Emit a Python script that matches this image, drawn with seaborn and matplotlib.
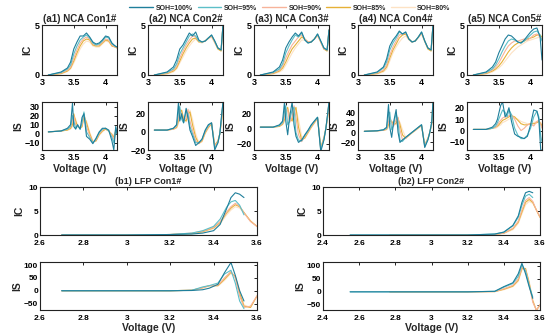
import numpy as np
import pandas as pd
import matplotlib
matplotlib.use("Agg")
import matplotlib.pyplot as plt
import seaborn as sns

sns.set_theme(style="white")
plt.rcParams['font.family'] = ['Liberation Sans', 'DejaVu Sans']
plt.rcParams['font.weight'] = 'bold'

soh_labels = ["SOH=100%", "SOH=95%", "SOH=90%", "SOH=85%", "SOH=80%"]
soh_colors = ["#1f7f9b", "#5cbfc8", "#f7b39a", "#e6b136", "#fde2c4"]

# ---------------- NCA incremental capacity ----------------
v_nca_ic = [3.1, 3.3, 3.4, 3.45, 3.5, 3.55, 3.6, 3.65, 3.7, 3.75, 3.8, 3.85, 3.9, 3.95, 4.0, 4.05, 4.1, 4.15, 4.18]

ic_a1_100 = [0.0, 0.3, 0.7, 1.3, 2.6, 3.3, 3.9, 3.9, 4.2, 3.8, 3.3, 3.1, 3.2, 3.5, 3.9, 3.8, 3.2, 2.9, 2.8]
ic_a1_95 = [0.0, 0.25, 0.6, 1.0, 2.1, 2.9, 3.5, 3.8, 4.0, 3.7, 3.2, 3.0, 3.1, 3.4, 3.8, 3.7, 3.1, 2.9, 2.8]
ic_a1_90 = [0.0, 0.2, 0.5, 0.8, 1.7, 2.5, 3.2, 3.6, 3.8, 3.6, 3.1, 3.0, 3.0, 3.3, 3.6, 3.5, 3.0, 2.8, 2.8]
ic_a1_85 = [0.0, 0.15, 0.4, 0.7, 1.4, 2.2, 2.9, 3.4, 3.6, 3.5, 3.0, 2.9, 2.9, 3.2, 3.5, 3.4, 2.9, 2.8, 2.7]
ic_a1_80 = [0.0, 0.1, 0.35, 0.6, 1.2, 1.9, 2.6, 3.1, 3.4, 3.3, 2.9, 2.8, 2.8, 3.1, 3.4, 3.3, 2.9, 2.8, 2.7]

ic_a2_100 = [0.0, 0.3, 0.8, 1.5, 2.6, 3.0, 3.6, 4.2, 3.9, 4.3, 3.5, 3.3, 3.4, 3.7, 4.0, 3.4, 2.7, 2.5, 5.0]
ic_a2_95 = [0.0, 0.25, 0.6, 1.1, 2.1, 2.7, 3.3, 3.9, 4.1, 3.9, 3.4, 3.3, 3.4, 3.7, 4.0, 3.4, 2.7, 2.5, 5.0]
ic_a2_90 = [0.0, 0.2, 0.5, 0.9, 1.7, 2.4, 3.0, 3.5, 3.9, 3.8, 3.4, 3.3, 3.4, 3.7, 3.9, 3.3, 2.7, 2.5, 5.0]
ic_a2_85 = [0.0, 0.15, 0.4, 0.7, 1.4, 2.1, 2.7, 3.2, 3.6, 3.7, 3.3, 3.3, 3.4, 3.7, 3.9, 3.3, 2.6, 2.4, 5.0]
ic_a2_80 = [0.0, 0.1, 0.3, 0.6, 1.2, 1.8, 2.4, 2.9, 3.3, 3.6, 3.3, 3.2, 3.4, 3.6, 3.8, 3.2, 2.6, 2.4, 5.0]

ic_a3_100 = [0.0, 0.3, 0.8, 1.5, 2.7, 3.3, 3.8, 4.2, 3.9, 4.3, 3.5, 3.2, 3.3, 3.6, 4.1, 3.4, 2.7, 2.5, 4.5]
ic_a3_95 = [0.0, 0.25, 0.6, 1.1, 2.2, 2.9, 3.5, 4.0, 3.8, 4.2, 3.5, 3.2, 3.3, 3.6, 4.1, 3.4, 2.7, 2.5, 4.5]
ic_a3_90 = [0.0, 0.2, 0.5, 0.9, 1.7, 2.4, 3.0, 3.4, 3.8, 4.0, 3.6, 3.3, 3.3, 3.6, 4.0, 3.3, 2.6, 2.5, 4.5]
ic_a3_85 = [0.0, 0.15, 0.4, 0.7, 1.3, 2.0, 2.6, 3.0, 3.4, 3.8, 3.6, 3.3, 3.3, 3.6, 4.0, 3.3, 2.6, 2.4, 4.5]
ic_a3_80 = [0.0, 0.1, 0.3, 0.5, 1.0, 1.6, 2.2, 2.7, 3.1, 3.5, 3.5, 3.3, 3.3, 3.6, 3.9, 3.3, 2.6, 2.4, 4.5]

ic_a4_100 = [0.0, 0.3, 0.8, 1.6, 2.9, 3.5, 3.9, 4.4, 4.1, 4.3, 3.6, 3.3, 3.4, 3.8, 4.3, 3.4, 2.7, 2.5, 5.0]
ic_a4_95 = [0.0, 0.25, 0.7, 1.3, 2.5, 3.2, 3.7, 4.3, 4.1, 4.3, 3.6, 3.3, 3.4, 3.8, 4.3, 3.4, 2.7, 2.5, 5.0]
ic_a4_90 = [0.0, 0.2, 0.5, 1.0, 2.0, 2.8, 3.4, 4.0, 4.1, 4.2, 3.6, 3.3, 3.4, 3.8, 4.2, 3.4, 2.7, 2.5, 5.0]
ic_a4_85 = [0.0, 0.15, 0.4, 0.8, 1.7, 2.5, 3.1, 3.7, 4.0, 4.1, 3.6, 3.3, 3.4, 3.8, 4.2, 3.4, 2.6, 2.4, 5.0]
ic_a4_80 = [0.0, 0.1, 0.3, 0.6, 1.4, 2.2, 2.8, 3.3, 3.7, 3.9, 3.5, 3.3, 3.4, 3.7, 4.1, 3.3, 2.6, 2.4, 5.0]

ic_a5_100 = [0.0, 0.3, 0.8, 1.3, 2.2, 2.9, 3.6, 4.0, 3.9, 3.6, 3.3, 3.2, 3.5, 3.9, 4.3, 4.6, 4.7, 3.8, 1.5]
ic_a5_95 = [0.0, 0.25, 0.6, 1.0, 1.6, 2.3, 2.9, 3.4, 3.6, 3.5, 3.3, 3.2, 3.4, 3.7, 4.0, 4.3, 4.4, 4.0, 3.4]
ic_a5_90 = [0.0, 0.2, 0.5, 0.8, 1.2, 1.8, 2.4, 2.9, 3.2, 3.4, 3.4, 3.5, 3.6, 3.5, 3.7, 4.0, 4.1, 3.8, 3.6]
ic_a5_85 = [0.0, 0.15, 0.4, 0.6, 0.9, 1.3, 1.8, 2.3, 2.7, 3.0, 3.2, 3.3, 3.4, 3.6, 3.7, 3.8, 4.0, 4.0, 3.8]
ic_a5_80 = [0.0, 0.1, 0.3, 0.5, 0.7, 1.0, 1.4, 1.8, 2.2, 2.5, 2.8, 3.0, 3.2, 3.4, 3.5, 3.6, 3.7, 3.8, 3.7]

# ---------------- NCA incremental slope ----------------
v_nca_is = [3.1, 3.3, 3.4, 3.45, 3.48, 3.5, 3.53, 3.56, 3.6, 3.63, 3.66, 3.7, 3.75, 3.8, 3.85, 3.9, 3.95, 4.0, 4.05, 4.1, 4.13, 4.16, 4.18]

is_a1_100 = [2, 3, 6, 10, 34, 8, 5, 10, 5, 18, 22, -3, -6, -11, -5, 2, 6, 6, 4, -8, -18, 8, 0]
is_a1_95 = [2, 3, 5, 8, 20, 14, 6, 9, 5, 12, 24, 2, -4, -10, -6, 1, 5, 6, 3, -4, -10, 6, 0]
is_a1_90 = [2, 3, 5, 7, 14, 20, 10, 8, 6, 10, 22, 8, -2, -10, -7, 0, 4, 6, 3, -2, -6, 4, 0]
is_a1_85 = [2, 3, 4, 6, 10, 22, 14, 8, 6, 8, 20, 12, 0, -9, -8, -1, 3, 5, 3, -1, -4, 3, 0]
is_a1_80 = [2, 3, 4, 5, 8, 18, 16, 9, 6, 7, 17, 14, 2, -8, -8, -2, 2, 5, 3, 0, -2, 2, 0]

is_a2_100 = [2, 2, 4, 8, 33, 12, 20, 10, 26, 15, 2, -5, -15, -12, -8, 2, 8, 10, -20, -12, -2, 20, 33]
is_a2_95 = [2, 2, 4, 7, 22, 28, 14, 10, 22, 20, 6, -2, -12, -12, -8, 1, 7, 10, -18, -12, -2, 18, 33]
is_a2_90 = [2, 2, 3, 6, 15, 25, 20, 12, 15, 25, 12, 2, -10, -13, -9, 0, 6, 10, -16, -11, -2, 16, 33]
is_a2_85 = [2, 2, 3, 5, 12, 20, 24, 14, 12, 20, 22, 8, -6, -13, -10, -1, 5, 9, -15, -10, -2, 14, 33]
is_a2_80 = [2, 2, 3, 4, 9, 15, 22, 16, 11, 16, 24, 14, -2, -12, -11, -2, 4, 9, -14, -10, -2, 12, 33]

is_a3_100 = [2, 2, 5, 10, 35, 10, -8, 15, 35, 5, -10, -18, -15, -8, -2, 5, 10, 15, -30, -15, 0, 20, 35]
is_a3_95 = [2, 2, 4, 8, 22, 30, 5, 10, 25, 28, -5, -15, -16, -9, -3, 4, 10, 15, -28, -14, 0, 20, 35]
is_a3_90 = [2, 2, 4, 7, 15, 25, 25, 8, 15, 30, 15, -8, -17, -10, -4, 3, 9, 14, -27, -13, 0, 18, 35]
is_a3_85 = [2, 2, 3, 6, 12, 20, 28, 15, 10, 22, 28, 2, -15, -12, -5, 2, 8, 14, -25, -12, 0, 16, 35]
is_a3_80 = [2, 2, 3, 5, 9, 15, 24, 20, 10, 16, 26, 12, -10, -13, -6, 1, 7, 13, -24, -12, 0, 15, 35]

is_a4_100 = [2, 3, 5, 10, 55, 10, -10, 20, 45, 0, -20, -15, -10, -5, 0, 5, 10, 15, -30, -15, 0, 20, 60]
is_a4_95 = [2, 3, 5, 8, 35, 40, 5, 15, 38, 20, -15, -18, -10, -5, 0, 5, 10, 15, -28, -14, 0, 20, 60]
is_a4_90 = [2, 3, 4, 7, 20, 30, 20, 12, 25, 30, 5, -15, -12, -6, 0, 4, 10, 14, -26, -13, 0, 18, 60]
is_a4_85 = [2, 3, 4, 6, 15, 22, 22, 15, 18, 28, 15, -5, -12, -6, -1, 4, 9, 13, -25, -12, 0, 16, 60]
is_a4_80 = [2, 3, 4, 5, 10, 16, 20, 18, 15, 22, 20, 5, -10, -7, -1, 3, 8, 13, -24, -12, 0, 15, 60]

is_a5_100 = [1, 1, 3, 6, 10, 15, 22, 25, 12, 15, 20, 8, -3, -5, -6, -7, -5, 5, 18, 17, 10, -17, -17]
is_a5_95 = [1, 1, 2, 4, 7, 10, 14, 18, 16, 12, 18, 14, 2, -4, -7, -7, -4, 2, 12, 17, 12, -5, -10]
is_a5_90 = [1, 1, 2, 3, 5, 7, 9, 11, 12, 12, 13, 14, 10, 4, 0, 2, 5, 6, 4, 8, 9, 5, 2]
is_a5_85 = [1, 1, 2, 3, 4, 5, 7, 9, 10, 11, 12, 13, 12, 9, 6, 5, 5, 6, 6, 7, 8, 6, 4]
is_a5_80 = [1, 1, 2, 2, 3, 4, 5, 7, 8, 9, 10, 11, 11, 10, 8, 7, 6, 6, 7, 8, 8, 7, 5]

# ---------------- LFP ----------------
nan = float("nan")
v_b1_ic = [2.7, 2.8, 3.0, 3.2, 3.3, 3.35, 3.4, 3.43, 3.46, 3.48, 3.5, 3.52, 3.54, 3.57, 3.6]
ic_b1_100 = [0, 0, 0, 0.1, 0.2, 0.4, 0.9, 2.2, 5.5, 7.8, 8.8, 8.5, 7.8, nan, nan]
ic_b1_95 = [0, 0, 0, 0.1, 0.4, 0.9, 1.8, 3.3, 5.8, 6.9, 7.2, 6.2, 4.2, nan, nan]
ic_b1_90 = [0, 0, 0, 0.1, 0.4, 0.8, 1.6, 2.8, 4.8, 5.9, 6.6, 6.0, 4.6, 2.8, 1.8]
ic_b1_85 = [0, 0, 0, 0.1, 0.3, 0.7, 1.5, 2.6, 4.6, 5.6, 6.3, 5.9, 4.7, 2.9, 1.8]
ic_b1_80 = [0, 0, 0, 0.1, 0.3, 0.6, 1.3, 2.3, 4.2, 5.2, 5.9, 5.6, 4.6, 3.0, 1.7]

v_b1_is = [2.7, 2.8, 3.0, 3.2, 3.3, 3.35, 3.38, 3.42, 3.45, 3.48, 3.5, 3.52, 3.54, 3.57, 3.6]
is_b1_100 = [0, 0, 0, 0, 1, 4, 10, 25, 70, 110, 60, 0, -40, nan, nan]
is_b1_95 = [0, 0, 0, 0, 2, 15, 20, 30, 65, 80, 30, -40, -70, nan, nan]
is_b1_90 = [0, 0, 0, 0, 2, 12, 20, 22, 50, 75, 50, -20, -65, -60, -20]
is_b1_85 = [0, 0, 0, 0, 2, 12, 20, 20, 45, 72, 55, -10, -60, -65, -20]
is_b1_80 = [0, 0, 0, 0, 2, 10, 18, 18, 40, 68, 55, 0, -55, -65, -22]

v_b2_ic = [2.55, 2.77, 3.0, 3.2, 3.35, 3.4, 3.45, 3.48, 3.5, 3.52, 3.54, 3.56, 3.58, 3.6]
ic_b2_100 = [0, 0, 0, 0, 0.2, 0.6, 2.0, 4.0, 6.8, 8.8, 9.1, 8.8, nan, nan]
ic_b2_95 = [0, 0, 0, 0, 0.2, 0.6, 1.9, 3.7, 6.2, 8.1, 8.5, 7.8, nan, nan]
ic_b2_90 = [nan, 0, 0, 0, 0.1, 0.4, 1.4, 2.9, 5.2, 7.2, 7.8, 7.0, 5.2, 3.8]
ic_b2_85 = [nan, 0, 0, 0, 0.1, 0.4, 1.3, 2.7, 4.8, 6.8, 7.4, 6.8, 5.2, 3.7]
ic_b2_80 = [nan, 0, 0, 0, 0.1, 0.3, 1.1, 2.4, 4.4, 6.3, 7.0, 6.6, 5.2, 3.6]

v_b2_is = [2.55, 2.77, 3.0, 3.2, 3.35, 3.4, 3.45, 3.48, 3.5, 3.52, 3.54, 3.56, 3.58, 3.6]
is_b2_100 = [0, 0, 0, 0, 2, 20, 35, 70, 110, 70, 20, -25, nan, nan]
is_b2_95 = [0, 0, 0, 0, 2, 18, 32, 60, 105, 80, 25, -20, nan, nan]
is_b2_90 = [nan, 0, 0, 0, 1, 12, 25, 50, 95, 85, 30, -40, -70, -50]
is_b2_85 = [nan, 0, 0, 0, 1, 10, 22, 45, 90, 90, 35, -35, -72, -50]
is_b2_80 = [nan, 0, 0, 0, 1, 8, 20, 40, 85, 88, 40, -30, -70, -50]

W, H = 554, 334
fig = plt.figure(figsize=(W / 100, H / 100), dpi=100)


def add_ax(x0, y0, w, h):
    return fig.add_axes([x0 / W, 1 - (y0 + h) / H, w / W, h / H])


def draw(ax, v, curves):
    frames = []
    for lab, vals in zip(soh_labels, curves):
        frames.append(pd.DataFrame({"V": v, "y": vals, "SOH": lab}))
    df = pd.concat(frames, ignore_index=True).dropna()
    sns.lineplot(data=df, x="V", y="y", hue="SOH", hue_order=soh_labels[::-1],
                 palette=dict(zip(soh_labels, soh_colors)), estimator=None,
                 sort=False, linewidth=0.8, legend=False, ax=ax)
    ax.set_xlabel("")
    ax.set_ylabel("")


def style(ax, fs=6.5):
    ax.tick_params(direction="in", top=True, right=True, length=2, width=0.6,
                   labelsize=fs, colors="black")
    ax.tick_params(axis="x", pad=2.5)
    ax.tick_params(axis="y", pad=1.5)
    for lab in ax.get_xticklabels() + ax.get_yticklabels():
        lab.set_fontweight("bold")
    for s in ax.spines.values():
        s.set_color("#222222")
        s.set_linewidth(0.8)


a_left = [42, 148, 254, 358, 467]
ic_sets = [
    [ic_a1_100, ic_a1_95, ic_a1_90, ic_a1_85, ic_a1_80],
    [ic_a2_100, ic_a2_95, ic_a2_90, ic_a2_85, ic_a2_80],
    [ic_a3_100, ic_a3_95, ic_a3_90, ic_a3_85, ic_a3_80],
    [ic_a4_100, ic_a4_95, ic_a4_90, ic_a4_85, ic_a4_80],
    [ic_a5_100, ic_a5_95, ic_a5_90, ic_a5_85, ic_a5_80],
]
is_sets = [
    [is_a1_100, is_a1_95, is_a1_90, is_a1_85, is_a1_80],
    [is_a2_100, is_a2_95, is_a2_90, is_a2_85, is_a2_80],
    [is_a3_100, is_a3_95, is_a3_90, is_a3_85, is_a3_80],
    [is_a4_100, is_a4_95, is_a4_90, is_a4_85, is_a4_80],
    [is_a5_100, is_a5_95, is_a5_90, is_a5_85, is_a5_80],
]
is_ylims = [(-18, 35), (-20, 33), (-28, 35), (-35, 60), (-17, 25)]
is_ticks = [[-10, 0, 10, 20, 30], [-20, 0, 20], [-20, 0, 20], [-20, 0, 20, 40], [-10, 0, 10, 20]]

for i in range(5):
    ax = add_ax(a_left[i], 25, 75, 50)
    draw(ax, v_nca_ic, ic_sets[i])
    ax.set_xlim(3.0, 4.18)
    ax.set_ylim(0, 5)
    ax.set_xticks([3, 3.5, 4])
    ax.set_xticklabels(["3", "3.5", "4"])
    ax.set_yticks([0, 5])
    ax.set_title(f"(a{i+1}) NCA Con{i+1}#", fontsize=7, fontweight="bold", pad=2)
    ax.set_ylabel("IC", fontsize=7.5, fontweight="bold", labelpad=2)
    style(ax)

    ax2 = add_ax(a_left[i], 102, 75, 48)
    draw(ax2, v_nca_is, is_sets[i])
    ax2.set_xlim(3.0, 4.18)
    ax2.set_ylim(*is_ylims[i])
    ax2.set_xticks([3, 3.5, 4])
    ax2.set_xticklabels(["3", "3.5", "4"])
    ax2.set_yticks(is_ticks[i])
    ax2.set_ylabel("IS", fontsize=7.5, fontweight="bold", labelpad=1)
    ax2.set_xlabel("Voltage (V)", fontsize=7.5, fontweight="bold", labelpad=1)
    style(ax2)

# LFP panels
b_left = [40, 323]
b_ic = [
    (v_b1_ic, [ic_b1_100, ic_b1_95, ic_b1_90, ic_b1_85, ic_b1_80]),
    (v_b2_ic, [ic_b2_100, ic_b2_95, ic_b2_90, ic_b2_85, ic_b2_80]),
]
b_is = [
    (v_b1_is, [is_b1_100, is_b1_95, is_b1_90, is_b1_85, is_b1_80]),
    (v_b2_is, [is_b2_100, is_b2_95, is_b2_90, is_b2_85, is_b2_80]),
]
b_xlims = [(2.6, 3.6), (2.4, 3.6)]
b_xticks = [[2.6, 2.8, 3.0, 3.2, 3.4, 3.6], [2.4, 2.6, 2.8, 3.0, 3.2, 3.4, 3.6]]
b_is_ylims = [(-75, 112), (-70, 115)]

for j in range(2):
    ax = add_ax(b_left[j], 187, 217, 48)
    draw(ax, *b_ic[j])
    ax.set_xlim(*b_xlims[j])
    ax.set_ylim(0, 10)
    ax.set_xticks(b_xticks[j])
    ax.set_xticklabels([f"{t:g}" for t in b_xticks[j]])
    ax.set_yticks([0, 5, 10])
    ax.set_title(f"(b{j+1}) LFP Con{j+1}#", fontsize=6.5, fontweight="bold", pad=2)
    ax.set_ylabel("IC", fontsize=7.5, fontweight="bold", labelpad=3)
    style(ax, fs=6)
    ax.tick_params(axis="x", pad=3.5)

    ax2 = add_ax(b_left[j], 262, 217, 48)
    draw(ax2, *b_is[j])
    ax2.set_xlim(*b_xlims[j])
    ax2.set_ylim(*b_is_ylims[j])
    ax2.set_xticks(b_xticks[j])
    ax2.set_xticklabels([f"{t:g}" for t in b_xticks[j]])
    ax2.set_yticks([-50, 0, 50, 100])
    ax2.set_ylabel("IS", fontsize=7.5, fontweight="bold", labelpad=1)
    ax2.set_xlabel("Voltage (V)", fontsize=7.5, fontweight="bold", labelpad=1)
    style(ax2, fs=6)
    ax2.tick_params(axis="x", pad=3.5)

# Legend
handles = [plt.Line2D([], [], color=c, lw=1.0) for c in soh_colors]
fig.legend(handles, soh_labels, loc="center", bbox_to_anchor=(290 / W, 1 - 8 / H),
           ncol=5, frameon=False, handlelength=3.4, columnspacing=0.7,
           handletextpad=0.4, prop={"weight": "bold", "size": 5})

fig.savefig("out.png", dpi=100)
